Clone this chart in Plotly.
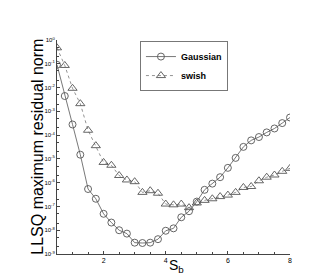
import plotly.graph_objects as go

# x values (S_b)
sb = [0.5, 0.75, 1.0, 1.25, 1.5, 1.75, 2.0, 2.25, 2.5, 2.75, 3.0, 3.25, 3.5, 3.75,
      4.0, 4.25, 4.5, 4.75, 5.0, 5.25, 5.5, 5.75, 6.0, 6.25, 6.5, 6.75, 7.0, 7.25,
      7.5, 7.75, 8.0]

# LLSQ maximum residual norm, Gaussian
gaussian = [9.1e-2, 4.4e-3, 2.8e-4, 1.5e-5, 5.4e-7, 2.1e-7, 4.9e-8, 2.1e-8, 1.0e-8,
            7.2e-9, 3.0e-9, 2.9e-9, 3.0e-9, 4.2e-9, 9.5e-9, 1.2e-8, 3.5e-8, 6.3e-8,
            1.6e-7, 5.0e-7, 9.1e-7, 1.7e-6, 4.2e-6, 1.1e-5, 3.2e-5, 6.0e-5, 8.3e-5,
            1.3e-4, 1.9e-4, 3.2e-4, 5.5e-4]

# LLSQ maximum residual norm, swish
swish = [4.7e-1, 8.5e-2, 9.3e-3, 2.1e-3, 1.6e-4, 3.6e-5, 7.1e-6, 5.4e-6, 2.0e-6,
         1.3e-6, 1.1e-6, 3.9e-7, 4.6e-7, 3.6e-7, 1.26e-7, 1.17e-7, 1.26e-7, 8.9e-8,
         1.4e-7, 1.8e-7, 2.1e-7, 2.6e-7, 3.0e-7, 3.9e-7, 6.3e-7, 6.9e-7, 1.2e-6,
         1.7e-6, 2.1e-6, 3.0e-6, 4.0e-6]

y_tickvals = [1e0, 1e-1, 1e-2, 1e-3, 1e-4, 1e-5, 1e-6, 1e-7, 1e-8, 1e-9]
y_ticktext = ["10<sup>0</sup>", "10<sup>-1</sup>", "10<sup>-2</sup>", "10<sup>-3</sup>",
              "10<sup>-4</sup>", "10<sup>-5</sup>", "10<sup>-6</sup>", "10<sup>-7</sup>",
              "10<sup>-8</sup>", "10<sup>-9</sup>"]
x_tickvals = [2, 4, 6, 8]
x_ticktext = ["2", "4", "6", "8"]

FONT = "Arial, Liberation Sans, sans-serif"
fig = go.Figure()
fig.add_trace(go.Scatter(
    x=sb, y=gaussian, name="<b>Gaussian</b>", mode="lines+markers",
    line=dict(color="#555555", width=0.8, dash="solid"),
    marker=dict(symbol="circle-open", size=7, color="#555555", line=dict(width=0.9)),
))
fig.add_trace(go.Scatter(
    x=sb, y=swish, name="<b>swish</b>", mode="lines+markers",
    line=dict(color="#777777", width=0.8, dash="dot"),
    marker=dict(symbol="triangle-up-open", size=8, color="#555555", line=dict(width=0.9)),
))

fig.update_layout(
    width=311, height=277,
    margin=dict(l=49, r=29, t=32, b=31),
    paper_bgcolor="white", plot_bgcolor="white",
    font=dict(family=FONT, color="black"),
    showlegend=True,
    legend=dict(
        x=0.356, y=0.995, xanchor="left", yanchor="top",
        bordercolor="#777777", borderwidth=1, bgcolor="white",
        font=dict(size=9, family=FONT),
        tracegroupgap=0,
    ),
    xaxis=dict(
        range=[0.5, 8], tickvals=x_tickvals, ticktext=x_ticktext,
        showgrid=False, zeroline=False, showline=True, linecolor="#444444", linewidth=1,
        ticks="inside", ticklen=3, tickcolor="#444444",
        tickfont=dict(size=7),
        minor=dict(dtick=0.5, ticks="inside", ticklen=2, tickcolor="#444444", showgrid=False),
    ),
    yaxis=dict(
        type="log", range=[-9, 0], tickvals=y_tickvals, ticktext=y_ticktext,
        showgrid=False, zeroline=False, showline=True, linecolor="#444444", linewidth=1,
        ticks="inside", ticklen=3, tickcolor="#444444",
        tickfont=dict(size=6),
        minor=dict(ticks="inside", ticklen=1.5, tickcolor="#444444", showgrid=False),
    ),
    annotations=[
        dict(
            text="LLSQ maximum residual norm", textangle=-90,
            xref="paper", yref="paper", x=-0.087, y=0.5, xanchor="center", yanchor="middle",
            showarrow=False, font=dict(size=16, family=FONT),
        ),
        dict(
            text="S<sub>b</sub>",
            xref="paper", yref="paper", x=0.512, y=-0.058, xanchor="center", yanchor="middle",
            showarrow=False, font=dict(size=14, family=FONT),
        ),
    ],
)

fig.write_html("out.html")
